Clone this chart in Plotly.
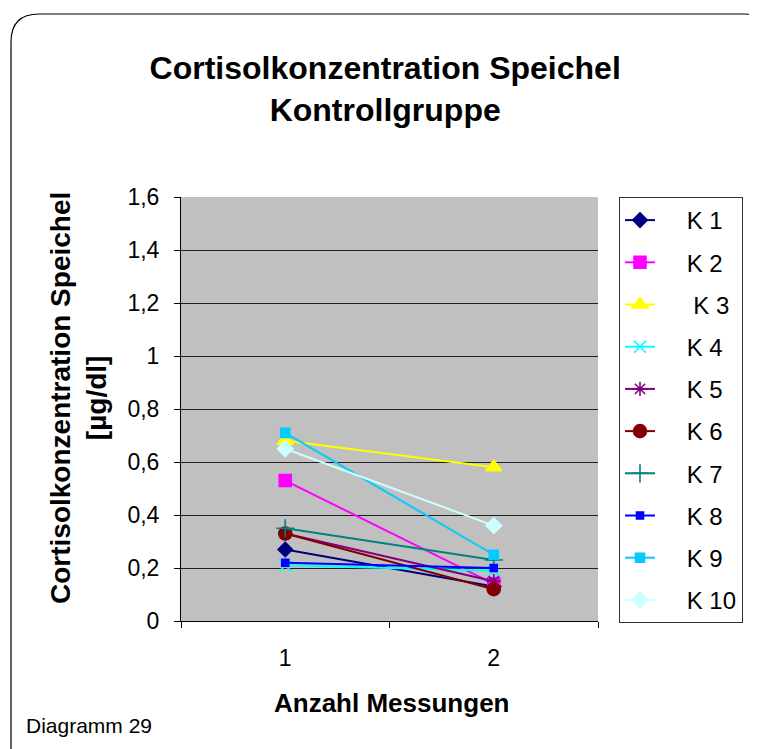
"""Cortisol concentration in saliva, control group (Diagramm 29)."""

import plotly.graph_objects as go

# the page body has an 8px margin, so the figure is laid out 8px up/left
OFF = 8
W, H = 757 - OFF, 749 - OFF
L, R, T, B = 181 - OFF, 598 - OFF, 197 - OFF, 621 - OFF  # plot area

measurements = ["1", "2"]
subjects = ["K 1", "K 2", " K 3", "K 4", "K 5", "K 6", "K 7", "K 8", "K 9", "K 10"]
values = [
    [0.27, 0.13],
    [0.53, 0.14],
    [0.68, 0.58],
    [0.21, 0.19],
    [0.33, 0.15],
    [0.33, 0.12],
    [0.35, 0.23],
    [0.22, 0.20],
    [0.71, 0.25],
    [0.65, 0.36],
]
colors = ["#000080", "#FF00FF", "#FFFF00", "#00FFFF", "#800080",
          "#800000", "#008080", "#0000FF", "#00CCFF", "#CCFFFF"]
symbols = ["diamond", "square", "triangle-up", "x-thin-open", "asterisk-open",
           "circle", "cross-thin-open", "square", "square", "diamond"]
sizes = [11, 12, 14, 12, 12, 13, 13, 7, 9, 12]

FONT = "Arial, Liberation Sans, sans-serif"
PAD = "    "  # pushes legend text right of the (short) plotly legend line


def px_x(x):
    return (x - OFF - L) / (R - L)


def px_y(y):
    return (B - (y - OFF)) / (B - T)


fig = go.Figure()
for name, vals, col, sym, sz in zip(subjects, values, colors, symbols, sizes):
    fig.add_trace(go.Scatter(
        x=measurements, y=vals, name=PAD + name, legendgroup=name,
        mode="lines+markers",
        line=dict(color=col, width=2),
        marker=dict(symbol=sym, size=sz, color=col, line=dict(color=col, width=1.6)),
    ))

# rounded outer frame (screen pixel coordinates)
r = 28
x0, y0, x1, y1 = 11, 14, 772, 770
path = (
    f"M {px_x(x0)},{px_y(y1)} L {px_x(x0)},{px_y(y0 + r)} "
    f"Q {px_x(x0)},{px_y(y0)} {px_x(x0 + r)},{px_y(y0)} "
    f"L {px_x(x1 - r)},{px_y(y0)} Q {px_x(x1)},{px_y(y0)} {px_x(x1)},{px_y(y0 + r)} "
    f"L {px_x(x1)},{px_y(y1)} Z"
)

fig.update_layout(
    width=W, height=H,
    margin=dict(l=L, r=W - R, t=T, b=H - B),
    paper_bgcolor="white",
    plot_bgcolor="#C0C0C0",
    font=dict(family=FONT, color="black"),
    title=dict(
        text="<b>Cortisolkonzentration Speichel<br>Kontrollgruppe</b>",
        x=px_x(391), xanchor="center", y=1 - (79 - OFF) / H, yanchor="middle",
        font=dict(size=32),
    ),
    showlegend=True,
    legend=dict(
        x=px_x(619), y=px_y(197), xanchor="left", yanchor="top",
        bgcolor="white", bordercolor="#333333", borderwidth=1,
        font=dict(size=24), traceorder="grouped", tracegroupgap=8,
        maxheight=600,
    ),
    xaxis=dict(
        type="category", tickson="boundaries", ticks="outside", ticklen=6,
        tickcolor="black", showline=True, linecolor="black", linewidth=1,
        showgrid=False, tickfont=dict(size=23), range=[-0.5, 1.5],
        ticklabelstandoff=16,
    ),
    yaxis=dict(
        range=[0, 1.6], dtick=0.2, tickformat=".1~f",
        ticks="outside", ticklen=6, tickcolor="black",
        showline=True, linecolor="black", linewidth=1,
        showgrid=True, gridcolor="#202020", gridwidth=1,
        tickfont=dict(size=23), zeroline=False, ticklabelstandoff=10,
    ),
    separators=",.",
    shapes=[dict(type="path", xref="paper", yref="paper", path=path,
                 line=dict(color="black", width=1.2))],
    annotations=[
        dict(text="<b>Cortisolkonzentration Speichel<br>[µg/dl]</b>",
             xref="paper", yref="paper", x=px_x(78), y=px_y(398),
             xanchor="center", yanchor="middle",
             textangle=-90, showarrow=False, font=dict(size=28)),
        dict(text="<b>Anzahl Messungen</b>", xref="paper", yref="paper",
             x=px_x(391), y=px_y(703), xanchor="center", yanchor="middle",
             showarrow=False, font=dict(size=26)),
        dict(text="Diagramm 29", xref="paper", yref="paper",
             x=px_x(24), y=px_y(725), xanchor="left", yanchor="middle",
             showarrow=False, font=dict(size=21)),
    ],
)

fig.write_html("out.html")
